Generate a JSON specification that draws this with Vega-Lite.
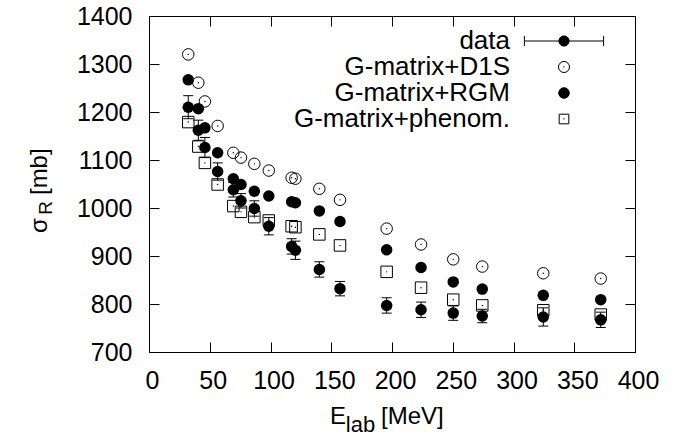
{
  "$schema": "https://vega.github.io/schema/vega-lite/v6.json",
  "width": 486,
  "height": 336,
  "autosize": "none",
  "padding": {"left": 149, "top": 16, "right": 61, "bottom": 82},
  "background": "white",
  "config": {
    "view": {"stroke": "black", "strokeWidth": 1},
    "font": "Liberation Sans"
  },
  "datasets": {
    "pts": [
      {"E": 32.3, "s": 1320, "series": "G-matrix+D1S"},
      {"E": 40.6, "s": 1261, "series": "G-matrix+D1S"},
      {"E": 46.0, "s": 1222, "series": "G-matrix+D1S"},
      {"E": 56.5, "s": 1171, "series": "G-matrix+D1S"},
      {"E": 69.4, "s": 1115, "series": "G-matrix+D1S"},
      {"E": 75.7, "s": 1105, "series": "G-matrix+D1S"},
      {"E": 86.7, "s": 1092, "series": "G-matrix+D1S"},
      {"E": 98.6, "s": 1078, "series": "G-matrix+D1S"},
      {"E": 117.4, "s": 1063, "series": "G-matrix+D1S"},
      {"E": 120.5, "s": 1061, "series": "G-matrix+D1S"},
      {"E": 140.2, "s": 1040, "series": "G-matrix+D1S"},
      {"E": 157.2, "s": 1017, "series": "G-matrix+D1S"},
      {"E": 195.6, "s": 957, "series": "G-matrix+D1S"},
      {"E": 223.9, "s": 924, "series": "G-matrix+D1S"},
      {"E": 250.4, "s": 893, "series": "G-matrix+D1S"},
      {"E": 274.3, "s": 878, "series": "G-matrix+D1S"},
      {"E": 324.5, "s": 864, "series": "G-matrix+D1S"},
      {"E": 371.8, "s": 853, "series": "G-matrix+D1S"},
      {"E": 32.3, "s": 1267, "series": "G-matrix+RGM"},
      {"E": 40.6, "s": 1207, "series": "G-matrix+RGM"},
      {"E": 46.0, "s": 1167, "series": "G-matrix+RGM"},
      {"E": 56.5, "s": 1115, "series": "G-matrix+RGM"},
      {"E": 69.4, "s": 1061, "series": "G-matrix+RGM"},
      {"E": 75.7, "s": 1049, "series": "G-matrix+RGM"},
      {"E": 86.7, "s": 1035, "series": "G-matrix+RGM"},
      {"E": 98.6, "s": 1025, "series": "G-matrix+RGM"},
      {"E": 117.4, "s": 1013, "series": "G-matrix+RGM"},
      {"E": 120.5, "s": 1011, "series": "G-matrix+RGM"},
      {"E": 140.2, "s": 994, "series": "G-matrix+RGM"},
      {"E": 157.2, "s": 972, "series": "G-matrix+RGM"},
      {"E": 195.6, "s": 913, "series": "G-matrix+RGM"},
      {"E": 223.9, "s": 876, "series": "G-matrix+RGM"},
      {"E": 250.4, "s": 846, "series": "G-matrix+RGM"},
      {"E": 274.3, "s": 831, "series": "G-matrix+RGM"},
      {"E": 324.5, "s": 818, "series": "G-matrix+RGM"},
      {"E": 371.8, "s": 809, "series": "G-matrix+RGM"},
      {"E": 32.3, "s": 1179, "series": "G-matrix+phenom."},
      {"E": 40.6, "s": 1128, "series": "G-matrix+phenom."},
      {"E": 46.0, "s": 1094, "series": "G-matrix+phenom."},
      {"E": 56.5, "s": 1049, "series": "G-matrix+phenom."},
      {"E": 69.4, "s": 1004, "series": "G-matrix+phenom."},
      {"E": 75.7, "s": 992, "series": "G-matrix+phenom."},
      {"E": 86.7, "s": 981, "series": "G-matrix+phenom."},
      {"E": 98.6, "s": 974, "series": "G-matrix+phenom."},
      {"E": 117.4, "s": 962, "series": "G-matrix+phenom."},
      {"E": 120.5, "s": 960, "series": "G-matrix+phenom."},
      {"E": 140.2, "s": 945, "series": "G-matrix+phenom."},
      {"E": 157.2, "s": 922, "series": "G-matrix+phenom."},
      {"E": 195.6, "s": 867, "series": "G-matrix+phenom."},
      {"E": 223.9, "s": 834, "series": "G-matrix+phenom."},
      {"E": 250.4, "s": 809, "series": "G-matrix+phenom."},
      {"E": 274.3, "s": 797, "series": "G-matrix+phenom."},
      {"E": 324.5, "s": 787, "series": "G-matrix+phenom."},
      {"E": 371.8, "s": 778, "series": "G-matrix+phenom."},
      {"E": 32.3, "s": 1210, "lo": 1186, "hi": 1234, "series": "data"},
      {"E": 40.6, "s": 1162, "lo": 1141, "hi": 1183, "series": "data"},
      {"E": 46.0, "s": 1126, "lo": 1105, "hi": 1147, "series": "data"},
      {"E": 56.5, "s": 1076, "lo": 1058, "hi": 1094, "series": "data"},
      {"E": 69.4, "s": 1038, "lo": 1023, "hi": 1053, "series": "data"},
      {"E": 75.7, "s": 1015, "lo": 1000, "hi": 1030, "series": "data"},
      {"E": 86.7, "s": 999, "lo": 983, "hi": 1015, "series": "data"},
      {"E": 98.6, "s": 962, "lo": 944, "hi": 980, "series": "data"},
      {"E": 117.4, "s": 920, "lo": 904, "hi": 936, "series": "data"},
      {"E": 120.5, "s": 912, "lo": 893, "hi": 931, "series": "data"},
      {"E": 140.2, "s": 872, "lo": 856, "hi": 888, "series": "data"},
      {"E": 157.2, "s": 832, "lo": 817, "hi": 847, "series": "data"},
      {"E": 195.6, "s": 797, "lo": 781, "hi": 813, "series": "data"},
      {"E": 223.9, "s": 788, "lo": 772, "hi": 804, "series": "data"},
      {"E": 250.4, "s": 781, "lo": 766, "hi": 796, "series": "data"},
      {"E": 274.3, "s": 775, "lo": 761, "hi": 789, "series": "data"},
      {"E": 324.5, "s": 773, "lo": 754, "hi": 792, "series": "data"},
      {"E": 371.8, "s": 767, "lo": 751, "hi": 783, "series": "data"}
    ]
  },
  "resolve": {"axis": {"x": "independent", "y": "independent"}},
  "layer": [
    {
      "data": {"name": "pts"},
      "mark": {"type": "point", "opacity": 0, "stroke": "black", "strokeWidth": 1},
      "encoding": {
        "x": {"field": "E", "type": "quantitative", "scale": {"domain": [0, 400], "nice": false, "zero": false}, "axis": null},
        "y": {"field": "s", "type": "quantitative", "scale": {"domain": [700, 1400], "nice": false, "zero": false}, "axis": null},
        "shape": {
          "field": "series", "type": "nominal",
          "scale": {
            "domain": ["data", "G-matrix+D1S", "G-matrix+RGM", "G-matrix+phenom."],
            "range": [
              "M-6.6,0H6.6M-6.6,-0.85V0.85M6.6,-0.85V0.85M0.85,0A0.85,0.85 0 1,1 -0.85,0A0.85,0.85 0 1,1 0.85,0Z",
              "M0.92,0A0.92,0.92 0 1,1 -0.92,0A0.92,0.92 0 1,1 0.92,0ZM0.06,0A0.06,0.06 0 1,1 -0.06,0A0.06,0.06 0 1,1 0.06,0Z",
              "M0.88,0A0.88,0.88 0 1,1 -0.88,0A0.88,0.88 0 1,1 0.88,0Z",
              "M-0.8,-0.8H0.8V0.8H-0.8ZM0.06,0A0.06,0.06 0 1,1 -0.06,0A0.06,0.06 0 1,1 0.06,0Z"
            ]
          },
          "legend": {
            "title": null, "orient": "none", "legendX": 105, "legendY": 12, "padding": 0, "offset": 0,
            "labelAlign": "right", "labelOffset": -67, "symbolOffset": 297, "symbolSize": 144,
            "symbolStrokeColor": "black", "symbolStrokeWidth": 1, "symbolOpacity": 1,
            "labelFont": "Liberation Sans", "labelFontSize": 26, "labelColor": "black", "rowPadding": 0, "labelLimit": 0,
            "encode": {"symbols": {"update": {"stroke": {"value": "black"}, "strokeWidth": {"value": 1}, "opacity": {"value": 1}}}}
          }
        },
        "fill": {
          "field": "series", "type": "nominal",
          "scale": {
            "domain": ["data", "G-matrix+D1S", "G-matrix+RGM", "G-matrix+phenom."],
            "range": ["black", "transparent", "black", "transparent"]
          },
          "legend": {
            "title": null, "orient": "none", "legendX": 105, "legendY": 12, "padding": 0, "offset": 0,
            "labelAlign": "right", "labelOffset": -67, "symbolOffset": 297, "symbolSize": 144,
            "symbolStrokeColor": "black", "symbolStrokeWidth": 1, "symbolOpacity": 1,
            "labelFont": "Liberation Sans", "labelFontSize": 26, "labelColor": "black", "rowPadding": 0, "labelLimit": 0,
            "encode": {"symbols": {"update": {"stroke": {"value": "black"}, "strokeWidth": {"value": 1}, "opacity": {"value": 1}}}}
          }
        }
      }
    },
    {
      "data": {"name": "pts"},
      "transform": [{"filter": "datum.series === 'G-matrix+phenom.'"}],
      "mark": {"type": "point", "shape": "square", "size": 132, "filled": false, "stroke": "black", "strokeWidth": 1, "opacity": 1},
      "encoding": {
        "x": {"field": "E", "type": "quantitative", "axis": null},
        "y": {"field": "s", "type": "quantitative", "axis": null}
      }
    },
    {
      "data": {"name": "pts"},
      "transform": [{"filter": "datum.series === 'G-matrix+D1S'"}],
      "mark": {"type": "point", "shape": "circle", "size": 132, "filled": false, "stroke": "black", "strokeWidth": 1, "opacity": 1},
      "encoding": {
        "x": {"field": "E", "type": "quantitative", "axis": null},
        "y": {"field": "s", "type": "quantitative", "axis": null}
      }
    },
    {
      "data": {"name": "pts"},
      "transform": [{"filter": "datum.series === 'G-matrix+D1S' || datum.series === 'G-matrix+phenom.'"}],
      "mark": {"type": "point", "shape": "circle", "size": 2, "filled": true, "color": "black", "opacity": 1},
      "encoding": {
        "x": {"field": "E", "type": "quantitative", "axis": null},
        "y": {"field": "s", "type": "quantitative", "axis": null}
      }
    },
    {
      "data": {"name": "pts"},
      "transform": [{"filter": "datum.series === 'G-matrix+RGM'"}],
      "mark": {"type": "point", "shape": "circle", "size": 132, "filled": true, "color": "black", "opacity": 1},
      "encoding": {
        "x": {"field": "E", "type": "quantitative", "axis": null},
        "y": {"field": "s", "type": "quantitative", "axis": null}
      }
    },
    {
      "data": {"name": "pts"},
      "transform": [{"filter": "datum.series === 'data'"}],
      "mark": {"type": "rule", "color": "black", "strokeWidth": 1},
      "encoding": {
        "x": {"field": "E", "type": "quantitative", "axis": {"orient": "top", "values": [0, 50, 100, 150, 200, 250, 300, 350, 400], "labels": false, "tickSize": -10, "tickColor": "black", "tickWidth": 1, "domain": false, "grid": false, "title": null}},
        "y": {"field": "lo", "type": "quantitative", "axis": {"orient": "right", "values": [700, 800, 900, 1000, 1100, 1200, 1300, 1400], "labels": false, "tickSize": -10, "tickColor": "black", "tickWidth": 1, "domain": false, "grid": false, "title": null}},
        "y2": {"field": "hi"}
      }
    },
    {
      "data": {"name": "pts"},
      "transform": [{"filter": "datum.series === 'data'"}],
      "mark": {"type": "tick", "orient": "horizontal", "size": 10, "thickness": 1, "color": "black", "opacity": 1},
      "encoding": {
        "x": {"field": "E", "type": "quantitative", "axis": null},
        "y": {"field": "lo", "type": "quantitative", "axis": null}
      }
    },
    {
      "data": {"name": "pts"},
      "transform": [{"filter": "datum.series === 'data'"}],
      "mark": {"type": "tick", "orient": "horizontal", "size": 10, "thickness": 1, "color": "black", "opacity": 1},
      "encoding": {
        "x": {"field": "E", "type": "quantitative", "axis": null},
        "y": {"field": "hi", "type": "quantitative", "axis": null}
      }
    },
    {
      "data": {"name": "pts"},
      "transform": [{"filter": "datum.series === 'data'"}],
      "mark": {"type": "point", "shape": "circle", "size": 132, "filled": true, "color": "black", "opacity": 1},
      "encoding": {
        "x": {"field": "E", "type": "quantitative", "axis": {"orient": "bottom", "values": [0, 50, 100, 150, 200, 250, 300, 350, 400], "format": "d", "tickSize": -10, "tickColor": "black", "tickWidth": 1, "labelPadding": 26, "labelOffset": 3, "labelFont": "Liberation Sans", "labelFontSize": 25, "labelColor": "black", "labelFlush": false, "labelOverlap": false, "domain": false, "grid": false, "title": null}},
        "y": {"field": "s", "type": "quantitative", "axis": {"orient": "left", "values": [700, 800, 900, 1000, 1100, 1200, 1300, 1400], "format": "d", "tickSize": -10, "tickColor": "black", "tickWidth": 1, "labelPadding": 27, "labelFont": "Liberation Sans", "labelFontSize": 25, "labelColor": "black", "labelFlush": false, "labelOverlap": false, "domain": false, "grid": false, "title": null}}
      }
    },
    {
      "data": {"values": [{"t": "E"}]},
      "mark": {"type": "text", "align": "left", "baseline": "alphabetic", "font": "Liberation Sans", "fontSize": 24, "color": "black"},
      "encoding": {
        "x": {"datum": 149, "axis": null},
        "y": {"datum": 549, "axis": null},
        "text": {"field": "t"}
      }
    },
    {
      "data": {"values": [{"t": "lab"}]},
      "mark": {"type": "text", "align": "left", "baseline": "alphabetic", "font": "Liberation Sans", "fontSize": 22, "color": "black"},
      "encoding": {
        "x": {"datum": 162, "axis": null},
        "y": {"datum": 533, "axis": null},
        "text": {"field": "t"}
      }
    },
    {
      "data": {"values": [{"t": "[MeV]"}]},
      "mark": {"type": "text", "align": "left", "baseline": "alphabetic", "font": "Liberation Sans", "fontSize": 24, "color": "black"},
      "encoding": {
        "x": {"datum": 191, "axis": null},
        "y": {"datum": 549, "axis": null},
        "text": {"field": "t"}
      }
    },
    {
      "data": {"values": [{"t": "σ"}]},
      "mark": {"type": "text", "align": "left", "baseline": "alphabetic", "angle": 270, "font": "Liberation Sans", "fontSize": 24, "color": "black"},
      "encoding": {
        "x": {"datum": -84, "axis": null},
        "y": {"datum": 948, "axis": null},
        "text": {"field": "t"}
      }
    },
    {
      "data": {"values": [{"t": "R"}]},
      "mark": {"type": "text", "align": "left", "baseline": "alphabetic", "angle": 270, "font": "Liberation Sans", "fontSize": 19, "color": "black"},
      "encoding": {
        "x": {"datum": -80, "axis": null},
        "y": {"datum": 986, "axis": null},
        "text": {"field": "t"}
      }
    },
    {
      "data": {"values": [{"t": "[mb]"}]},
      "mark": {"type": "text", "align": "left", "baseline": "alphabetic", "angle": 270, "font": "Liberation Sans", "fontSize": 24, "color": "black"},
      "encoding": {
        "x": {"datum": -84, "axis": null},
        "y": {"datum": 1027, "axis": null},
        "text": {"field": "t"}
      }
    }
  ]
}
